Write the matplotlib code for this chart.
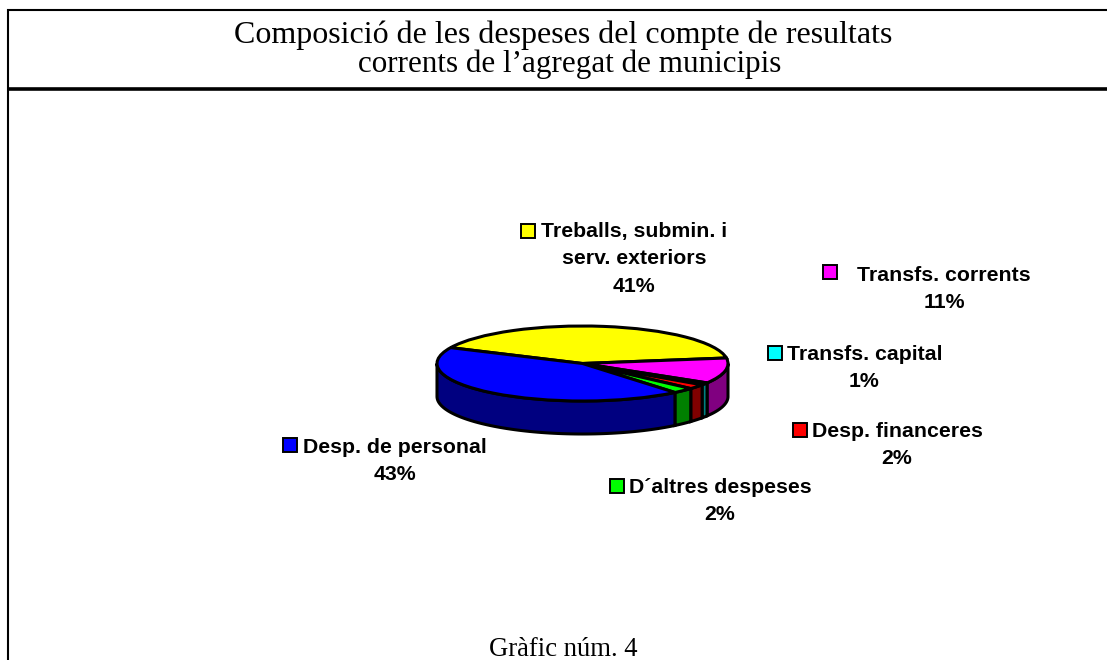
"""Composició de les despeses - pastis 3D"""
import numpy as np
import matplotlib
matplotlib.use("Agg")
import matplotlib.pyplot as plt

W, H = 1107, 660

# valors llegits del grafic, en ordre horari des del tall blau/groc
labels = ["Treballs, submin. i\nserv. exteriors", "Transfs. corrents", "Transfs. capital",
          "Desp. financeres", "D´altres despeses", "Desp. de personal"]
values = [40.7, 11.0, 1.0, 2.0, 2.4, 42.9]
top_colors = ["#FFFF00", "#FF00FF", "#00FFFF", "#FF0000", "#00FF00", "#0000FF"]
side_colors = ["#808000", "#800080", "#008080", "#800000", "#008000", "#000080"]
label_xy = [(634, 259), (944, 289), (864.5, 368), (897, 445), (720, 501), (395, 461)]
swatch_xy = [(527.5, 230.5), (830, 272), (774.5, 353), (799.5, 430), (617, 486), (290, 445)]

START = 155.0
CX, CY, RX, RY, DEPTH = 582.5, 363.5, 145.5, 37.5, 33.0

fig = plt.figure(figsize=(W / 100, H / 100), dpi=100)

# capa de fons en pixels: marc i textos
bg = fig.add_axes([0, 0, 1, 1])
bg.set_xlim(0, W)
bg.set_ylim(H, 0)
bg.axis("off")

bg.plot([8, 8, W], [H, 10, 10], color="black", lw=1.5, solid_joinstyle="miter")
bg.plot([8, W], [89, 89], color="black", lw=2.6, solid_capstyle="butt")

serif = "Liberation Serif"
bg.text(563, 43, "Composició de les despeses del compte de resultats", family=serif,
        fontsize=23, ha="center", va="baseline")
bg.text(569.5, 72, "corrents de l’agregat de municipis", family=serif,
        fontsize=22.4, ha="center", va="baseline")
bg.text(563, 656, "Gràfic núm. 4", family=serif, fontsize=19.2, ha="center", va="baseline")

for lab, val, (lx, ly), (sx, sy), col in zip(labels, values, label_xy, swatch_xy, top_colors):
    bg.text(lx, ly, f"{lab}\n{round(val)}%", family="Liberation Sans", weight="bold",
            fontsize=15.3, ha="center", va="center", linespacing=1.55)
    bg.plot([sx], [sy], marker="s", ms=10.3, mfc=col, mec="black", mew=1.4, ls="none")

# eixos del pastis: una unitat = RX px en horitzontal i RY px en vertical
ax = fig.add_axes([(CX - 1.1 * RX) / W, 1 - (CY + 2.2 * RY) / H, 2.2 * RX / W, 3.3 * RY / H])
ax.patch.set_alpha(0)

# cara lateral, nomes la meitat del davant
edges = START - np.cumsum([0] + values) * 3.6
d = DEPTH / RY
for a0, a1, col in zip(edges[:-1], edges[1:], side_colors):
    a0n, a1n = a0, a1
    if a1n < -180:
        a1n = -180
    if a0n > 0:
        a0n = 0
    if a0n <= a1n:
        continue
    t = np.radians(np.linspace(a0n, a1n, 80))
    x = np.cos(t)
    y = np.sin(t)
    ax.fill(np.r_[x, x[::-1]], np.r_[y, y[::-1] - d], facecolor=col, edgecolor="black", lw=2.2, zorder=1)

# cara superior
wedges, _ = ax.pie(values, colors=top_colors, startangle=START, counterclock=False, radius=1,
                   wedgeprops={"edgecolor": "black", "linewidth": 2.2, "zorder": 2})
ax.set_aspect("auto")
ax.set_xlim(-1.1, 1.1)
ax.set_ylim(-2.2, 1.1)
ax.set_frame_on(False)

fig.savefig("out.png", dpi=100)
